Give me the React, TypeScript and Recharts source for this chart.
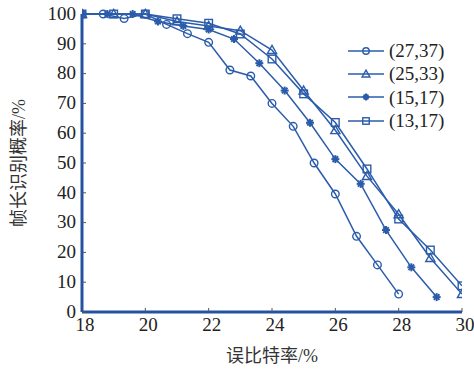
import React from "react";
import { LineChart, Line, XAxis, YAxis } from "recharts";

const BLUE = "#2b5cab";
const FRAME = "#2452a3";
const TEXT = "#222";
const SERIF = '"Times New Roman", "Liberation Serif", "DejaVu Serif", serif';
const CJK = '"Times New Roman", "Liberation Serif", "Noto Sans CJK SC", serif';

const xTicks = [18, 20, 22, 24, 26, 28, 30];
const yTicks = [0, 10, 20, 30, 40, 50, 60, 70, 80, 90, 100];

// (27,37)
const circleX = [18, 18.67, 19.33, 20, 20.67, 21.33, 22, 22.67, 23.33, 24, 24.67, 25.33, 26, 26.67, 27.33, 28];
const circleY = [100, 100, 98.5, 100, 96.5, 93.4, 90.5, 81.2, 79.2, 70, 62.3, 50, 39.6, 25.4, 15.8, 6];

// (25,33)
const triX = [18, 19, 20, 21, 22, 23, 24, 25, 26, 27, 28, 29, 30];
const triY = [100, 100, 100, 97.5, 96, 94.4, 87.9, 74.3, 61, 45.6, 32.8, 18.1, 6];

// (15,17)
const starX = [18, 18.8, 19.6, 20.4, 21.2, 22, 22.8, 23.6, 24.4, 25.2, 26, 26.8, 27.6, 28.4, 29.2];
const starY = [100, 100, 100, 97.5, 96, 94.8, 91.6, 83.5, 74.3, 63.5, 51.3, 43, 27.5, 15, 5];

// (13,17)
const sqX = [18, 19, 20, 21, 22, 23, 24, 25, 26, 27, 28, 29, 30];
const sqY = [100, 100, 100, 98.4, 96.9, 93.3, 84.9, 73.2, 63.6, 48, 31.2, 20.8, 8.8];

const zip = (xs: number[], ys: number[]) => xs.map((x, i) => ({ x, y: ys[i] }));

type Shape = "circle" | "triangle" | "star" | "square";

const series: { name: string; shape: Shape; data: { x: number; y: number }[] }[] = [
  { name: "(27,37)", shape: "circle", data: zip(circleX, circleY) },
  { name: "(25,33)", shape: "triangle", data: zip(triX, triY) },
  { name: "(15,17)", shape: "star", data: zip(starX, starY) },
  { name: "(13,17)", shape: "square", data: zip(sqX, sqY) },
];

function Marker({ shape, cx, cy, s = 1 }: { shape: Shape; cx: number; cy: number; s?: number }) {
  const p = { fill: "none", stroke: BLUE, strokeWidth: 1.4 };
  if (shape === "circle") return <circle cx={cx} cy={cy} r={3.8 * s} {...p} />;
  if (shape === "square") {
    const h = 3.8 * s;
    return <rect x={cx - h} y={cy - h} width={2 * h} height={2 * h} {...p} />;
  }
  if (shape === "triangle") {
    const h = 4.6 * s;
    return (
      <polygon
        points={`${cx},${cy - h} ${cx + h},${cy + h * 0.75} ${cx - h},${cy + h * 0.75}`}
        {...p}
      />
    );
  }
  const r = 4 * s;
  const d = r * 0.7;
  return (
    <g stroke={BLUE} strokeWidth={2}>
      <line x1={cx - r} y1={cy} x2={cx + r} y2={cy} />
      <line x1={cx} y1={cy - r} x2={cx} y2={cy + r} />
      <line x1={cx - d} y1={cy - d} x2={cx + d} y2={cy + d} />
      <line x1={cx - d} y1={cy + d} x2={cx + d} y2={cy - d} />
    </g>
  );
}

function LegendBox() {
  return (
    <div
      style={{
        position: "absolute",
        left: 346,
        top: 39,
        fontFamily: SERIF,
        fontSize: 19,
        color: TEXT,
        lineHeight: 1,
      }}
    >
      {series.map((s) => (
        <div key={s.name} style={{ display: "flex", alignItems: "center", height: 23.3 }}>
          <svg width={40} height={16} style={{ marginRight: 3 }}>
            <line x1={2} y1={8} x2={38} y2={8} stroke={BLUE} strokeWidth={1.5} />
            <Marker shape={s.shape} cx={20} cy={8} s={0.85} />
          </svg>
          <span>{s.name}</span>
        </div>
      ))}
    </div>
  );
}

export default function App() {
  const tickStyle = { fontSize: 19, fill: TEXT, fontFamily: SERIF };
  return (
    <div
      style={{
        position: "absolute",
        left: 0,
        top: 0,
        width: 474,
        height: 370,
        background: "#fff",
        fontFamily: SERIF,
      }}
    >
      <LineChart
        width={474}
        height={370}
        margin={{ top: 14, right: 12, left: 0, bottom: 0 }}
        style={{ fontFamily: SERIF }}
      >
        <XAxis
          dataKey="x"
          type="number"
          domain={[18, 30]}
          ticks={xTicks}
          interval={0}
          allowDataOverflow
          height={58}
          tick={{ ...tickStyle, dx: 3 }}
          tickSize={-4}
          tickMargin={10}
          axisLine={{ stroke: FRAME, strokeWidth: 3 }}
          tickLine={{ stroke: "#555" }}
          label={{
            value: "误比特率/%",
            position: "insideBottom",
            offset: 8,
            style: { fontSize: 18, fill: "#333", fontFamily: CJK },
          }}
        />
        <XAxis
          xAxisId="top"
          orientation="top"
          dataKey="x"
          type="number"
          domain={[18, 30]}
          ticks={xTicks}
          interval={0}
          height={0}
          tick={() => <g />}
          tickSize={-4}
          axisLine={{ stroke: FRAME, strokeWidth: 3 }}
          tickLine={{ stroke: "#555" }}
        />
        <YAxis
          type="number"
          domain={[0, 100]}
          ticks={yTicks}
          interval={0}
          width={82}
          tick={{ ...tickStyle, dy: -1 }}
          tickSize={-4}
          tickMargin={10}
          axisLine={{ stroke: FRAME, strokeWidth: 3 }}
          tickLine={{ stroke: "#555" }}
          label={{
            value: "帧长识别概率/%",
            angle: -90,
            position: "insideLeft",
            offset: 19,
            style: { fontSize: 18, fill: "#333", fontFamily: CJK, textAnchor: "middle" },
          }}
        />
        <YAxis
          yAxisId="right"
          orientation="right"
          type="number"
          domain={[0, 100]}
          ticks={yTicks}
          interval={0}
          width={0}
          tick={() => <g />}
          tickSize={-4}
          axisLine={{ stroke: FRAME, strokeWidth: 3 }}
          tickLine={{ stroke: "#555" }}
        />
        {series.map((s) => (
          <Line
            key={s.name}
            data={s.data}
            dataKey="y"
            name={s.name}
            stroke={BLUE}
            strokeWidth={1.5}
            isAnimationActive={false}
            dot={(p: any) => <Marker key={p.index} shape={s.shape} cx={p.cx} cy={p.cy} />}
            activeDot={false}
          />
        ))}
      </LineChart>
      <LegendBox />
    </div>
  );
}
